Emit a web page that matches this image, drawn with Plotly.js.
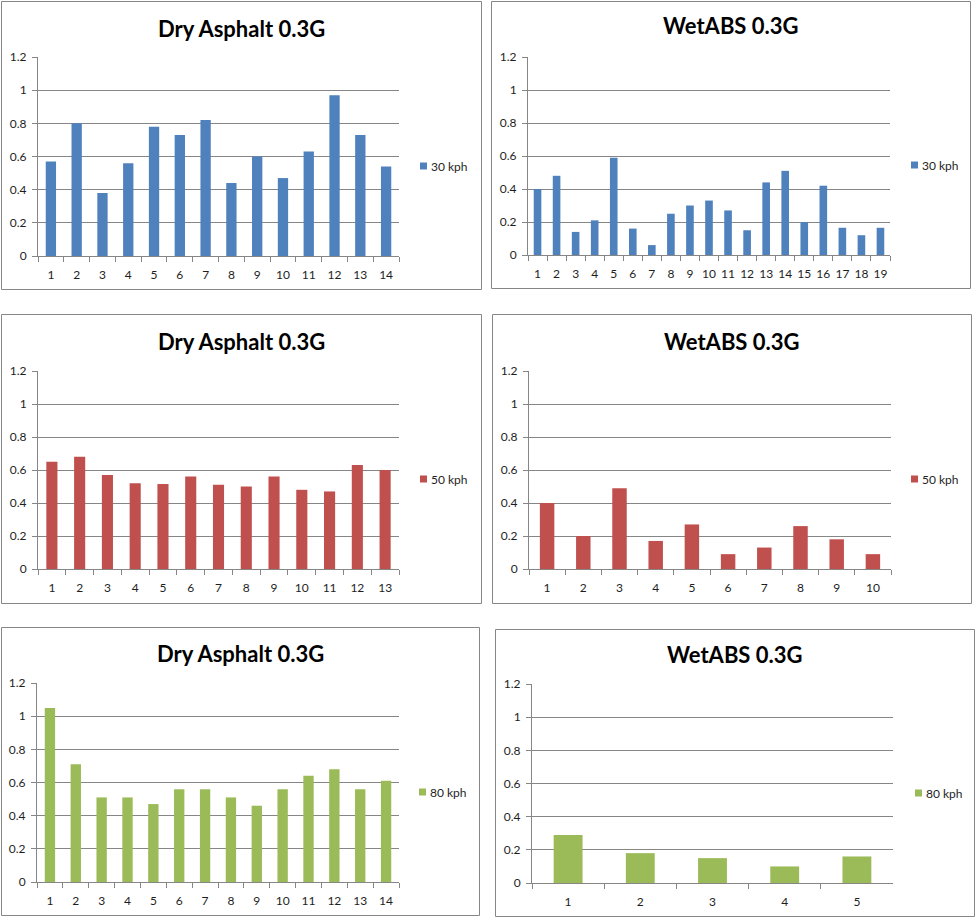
<!DOCTYPE html>
<html>
<head>
<meta charset="utf-8">
<script src="https://cdn.plot.ly/plotly-3.0.1.min.js"></script>
<style>html,body{margin:0;padding:0;background:#fff;overflow:hidden;}#chart{width:975px;height:917px;}</style>
</head>
<body>
<div id="chart"></div>
<script>
// ---- data ----
const titleDry = "Dry Asphalt 0.3G";
const titleWet = "WetABS 0.3G";
const series30 = "30 kph";
const series50 = "50 kph";
const series80 = "80 kph";

const dry30Labels = ["1","2","3","4","5","6","7","8","9","10","11","12","13","14"];
const dry30Values = [0.57,0.80,0.38,0.56,0.78,0.73,0.82,0.44,0.60,0.47,0.63,0.97,0.73,0.54];

const wet30Labels = ["1","2","3","4","5","6","7","8","9","10","11","12","13","14","15","16","17","18","19"];
const wet30Values = [0.40,0.48,0.14,0.21,0.59,0.16,0.06,0.25,0.30,0.33,0.27,0.15,0.44,0.51,0.20,0.42,0.165,0.12,0.165];

const dry50Labels = ["1","2","3","4","5","6","7","8","9","10","11","12","13"];
const dry50Values = [0.65,0.68,0.57,0.52,0.515,0.56,0.51,0.50,0.56,0.48,0.47,0.63,0.60];

const wet50Labels = ["1","2","3","4","5","6","7","8","9","10"];
const wet50Values = [0.40,0.20,0.49,0.17,0.27,0.09,0.13,0.26,0.18,0.09];

const dry80Labels = ["1","2","3","4","5","6","7","8","9","10","11","12","13","14"];
const dry80Values = [1.05,0.71,0.51,0.51,0.47,0.56,0.56,0.51,0.46,0.56,0.64,0.68,0.56,0.61];

const wet80Labels = ["1","2","3","4","5"];
const wet80Values = [0.29,0.18,0.15,0.10,0.16];

const yTickValues = [0,0.2,0.4,0.6,0.8,1,1.2];
const yTickText = ["0","0.2","0.4","0.6","0.8","1","1.2"];

// ---- styling / layout ----
const W = 975, H = 917;
const BLUE = "#4F81BD", RED = "#C0504D", GREEN = "#9BBB59";
const GRID = "#868686";
const FONT = "Lato, 'Open Sans', sans-serif";
const TXT = "#1e1e1e";

const panels = [
  {title:titleDry, name:series30, labels:dry30Labels, values:dry30Values, color:BLUE,
   box:[1,1,481,289], plot:[38,57,399,256], ty:28, leg:[420,166]},
  {title:titleWet, name:series30, labels:wet30Labels, values:wet30Values, color:BLUE,
   box:[491,1,970,288], plot:[528,57,890,255], ty:26, leg:[911,165]},
  {title:titleDry, name:series50, labels:dry50Labels, values:dry50Values, color:RED,
   box:[1,314,481,603], plot:[38,371,399,569], ty:341, leg:[420,479]},
  {title:titleWet, name:series50, labels:wet50Labels, values:wet50Values, color:RED,
   box:[492,314,971,603], plot:[529,371,891,569], ty:341, leg:[911,479]},
  {title:titleDry, name:series80, labels:dry80Labels, values:dry80Values, color:GREEN,
   box:[1,627,479,915], plot:[37,683,399,882], ty:653, leg:[419,792]},
  {title:titleWet, name:series80, labels:wet80Labels, values:wet80Values, color:GREEN,
   box:[495,629,974,916], plot:[532,684,893,883], ty:654, leg:[915,793]}
];

const px = x => x / W;
const py = y => 1 - y / H;

const traces = [];
const layout = {
  width: W, height: H,
  margin: {l:0, r:0, t:0, b:0, pad:0, autoexpand:false},
  paper_bgcolor: "#fff", plot_bgcolor: "rgba(0,0,0,0)",
  showlegend: true,
  font: {family: FONT, size: 12, color: TXT},
  shapes: [], annotations: [],
  bargap: 0.6
};

panels.forEach((p, i) => {
  const n = i + 1;
  const sfx = n === 1 ? "" : String(n);
  traces.push({
    type: "bar",
    x: p.labels, y: p.values, name: p.name,
    xaxis: "x" + sfx, yaxis: "y" + sfx,
    legend: "legend" + sfx,
    marker: {color: p.color, line: {width: 0}}
  });
  layout["xaxis" + sfx] = {
    domain: [px(p.plot[0]), px(p.plot[2])],
    anchor: "y" + sfx,
    type: "category",
    showgrid: false, zeroline: false,
    showline: true, linecolor: GRID, linewidth: 1,
    ticks: "outside", tickson: "boundaries", ticklen: 5, tickcolor: GRID,
    tickangle: 0, ticklabelstandoff: 8,
    tickfont: {family: FONT, size: 12, color: TXT},
    automargin: false,
    fixedrange: true
  };
  layout["yaxis" + sfx] = {
    domain: [py(p.plot[3]), py(p.plot[1])],
    anchor: "x" + sfx,
    range: [0, 1.2],
    tickvals: yTickValues, ticktext: yTickText,
    showgrid: true, gridcolor: GRID, gridwidth: 1,
    zeroline: false,
    showline: true, linecolor: GRID, linewidth: 1,
    ticks: "outside", ticklen: 5, tickcolor: GRID,
    ticklabelstandoff: 3,
    tickfont: {family: FONT, size: 12, color: TXT},
    automargin: false,
    fixedrange: true
  };
  layout["legend" + sfx] = {
    x: px(p.leg[0]), y: py(p.leg[1]),
    xanchor: "left", yanchor: "middle",
    xref: "paper", yref: "paper",
    bgcolor: "rgba(0,0,0,0)", borderwidth: 0,
    font: {family: FONT, size: 12, color: TXT},
    itemwidth: 30
  };
  layout.shapes.push({
    type: "rect", xref: "paper", yref: "paper",
    x0: px(p.box[0] + 0.5), x1: px(p.box[2] + 0.5),
    y0: py(p.box[3] + 0.5), y1: py(p.box[1] + 0.5),
    line: {color: GRID, width: 1}, fillcolor: "rgba(0,0,0,0)", layer: "below"
  });
  layout.annotations.push({
    xref: "paper", yref: "paper",
    x: px((p.box[0] + p.box[2]) / 2), y: py(p.ty),
    xanchor: "center", yanchor: "middle",
    text: "<b>" + p.title + "</b>", showarrow: false,
    font: {family: FONT, size: 22, color: "#000"}
  });
});

// Compact Excel-style legend keys: small square, text right after it,
// key's left edge placed at the panel's legend anchor. Idempotent.
function fixLegends(gd) {
  const root = gd.getBoundingClientRect();
  const groups = Array.from(gd.querySelectorAll("g.infolayer > g"))
    .filter(g => /^legend\d*$/.test(g.getAttribute("class") || ""));
  groups.forEach(lg => {
    const cls = lg.getAttribute("class");
    const idx = cls === "legend" ? 0 : parseInt(cls.slice(6), 10) - 1;
    const p = panels[idx];
    if (!p) return;
    lg.querySelectorAll(".legendpoints path").forEach(pt => pt.setAttribute("d", "M3.5,3.5H-3.5V-3.5H3.5Z"));
    const pt = lg.querySelector(".legendpoints path");
    if (!pt) return;
    let r = pt.getBoundingClientRect();
    const dx = p.leg[0] - (r.left - root.left);
    const dy = p.leg[1] - ((r.top + r.bottom) / 2 - root.top);
    if (Math.abs(dx) > 0.2 || Math.abs(dy) > 0.2) {
      const tr = lg.getAttribute("transform") || "";
      lg.setAttribute("transform", tr + " translate(" + dx + "," + dy + ")");
    }
    r = pt.getBoundingClientRect();
    lg.querySelectorAll("g.traces > text").forEach(t => {
      const tb = t.getBoundingClientRect();
      const shift = (r.right + 4) - tb.left;
      if (Math.abs(shift) > 0.2) {
        const acc = parseFloat(t.getAttribute("data-shift") || "0") + shift;
        t.setAttribute("data-shift", acc);
        t.setAttribute("transform", "translate(" + acc + ",0)");
      }
    });
  });
}

Plotly.newPlot("chart", traces, layout, {displayModeBar: false, staticPlot: true}).then(gd => {
  fixLegends(gd);
  gd.on("plotly_afterplot", () => fixLegends(gd));
  requestAnimationFrame(() => fixLegends(gd));
  setTimeout(() => fixLegends(gd), 50);
  setTimeout(() => fixLegends(gd), 300);
});
</script>
</body>
</html>
